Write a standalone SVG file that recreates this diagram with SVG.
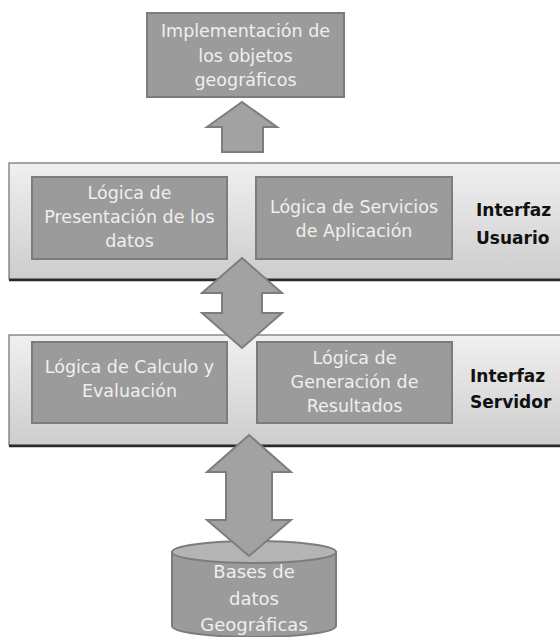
<svg xmlns="http://www.w3.org/2000/svg" width="560" height="637" viewBox="0 0 560 637">
  <defs>
    <linearGradient id="bandFill" x1="0" y1="0" x2="0" y2="1">
      <stop offset="0" stop-color="#f0f0f0"/>
      <stop offset="1" stop-color="#cdcdcd"/>
    </linearGradient>
    <style>
      .band { fill: url(#bandFill); stroke: #6e6e6e; stroke-width: 1.2; }
      .band-shadow { stroke: #2a2a2a; stroke-width: 2.5; }
      .box { fill: #9b9b9b; stroke: #7c7c7c; stroke-width: 2; }
      .arrow { fill: #a2a2a2; stroke: #7d7d7d; stroke-width: 2; stroke-linejoin: miter; }
      .lbl { font-family: "DejaVu Sans", "Liberation Sans", sans-serif; font-size: 17.5px; fill: #efefef; text-anchor: middle; }
      .db { font-size: 18px; }
      .side { font-family: "DejaVu Sans", "Liberation Sans", sans-serif; font-size: 17px; font-weight: bold; fill: #111; }
    </style>
  </defs>
  <rect width="560" height="637" fill="#ffffff"/>

  <!-- layer bands -->
  <g id="band-usuario">
    <rect class="band" x="9" y="163" width="560" height="116"/>
    <line class="band-shadow" x1="9" y1="280" x2="560" y2="280"/>
    <text class="side" x="476" y="216">Interfaz</text>
    <text class="side" x="476" y="244">Usuario</text>
  </g>
  <g id="band-servidor">
    <rect class="band" x="9" y="335" width="560" height="110"/>
    <line class="band-shadow" x1="9" y1="446" x2="560" y2="446"/>
    <text class="side" x="470" y="382">Interfaz</text>
    <text class="side" x="470" y="408">Servidor</text>
  </g>

  <!-- nodes -->
  <g id="implementacion">
    <rect class="box" x="147" y="13" width="197" height="84"/>
    <text class="lbl" x="245.5" y="37">Implementación de</text>
    <text class="lbl" x="245.5" y="62">los objetos</text>
    <text class="lbl" x="245.5" y="86">geográficos</text>
  </g>
  <g id="presentacion">
    <rect class="box" x="32" y="177" width="195" height="82"/>
    <text class="lbl" x="129.5" y="199">Lógica de</text>
    <text class="lbl" x="129.5" y="223">Presentación de los</text>
    <text class="lbl" x="129.5" y="247">datos</text>
  </g>
  <g id="servicios">
    <rect class="box" x="256" y="177" width="196" height="82"/>
    <text class="lbl" x="354" y="213">Lógica de Servicios</text>
    <text class="lbl" x="354" y="237">de Aplicación</text>
  </g>
  <g id="calculo">
    <rect class="box" x="32" y="342" width="195" height="81"/>
    <text class="lbl" x="129.5" y="373">Lógica de Calculo y</text>
    <text class="lbl" x="129.5" y="397">Evaluación</text>
  </g>
  <g id="generacion">
    <rect class="box" x="257" y="342" width="195" height="81"/>
    <text class="lbl" x="354.5" y="364">Lógica de</text>
    <text class="lbl" x="354.5" y="388">Generación de</text>
    <text class="lbl" x="354.5" y="412">Resultados</text>
  </g>
  <g id="bases-datos">
    <path class="box" d="M172,552 L172,626 A82,11 0 0 0 336,626 L336,552 Z"/>
    <ellipse cx="254" cy="552" rx="82" ry="11" fill="#b4b4b4" stroke="#7c7c7c" stroke-width="2"/>
    <text class="lbl db" x="254" y="578">Bases de</text>
    <text class="lbl db" x="254" y="605">datos</text>
    <text class="lbl db" x="254" y="631">Geográficas</text>
  </g>

  <!-- connectors (block arrows) -->
  <g id="connectors">
    <path class="arrow" d="M242,102 L277,127 L263,127 L263,152 L222,152 L222,127 L207,127 Z"/>
    <path class="arrow" d="M242,258 L282,293 L262,293 L262,313 L282,313 L242,348 L202,313 L222,313 L222,293 L202,293 Z"/>
    <path class="arrow" d="M249,435 L291,472 L272,472 L272,520 L291,520 L249,556 L207,520 L226,520 L226,472 L207,472 Z"/>
  </g>
</svg>
